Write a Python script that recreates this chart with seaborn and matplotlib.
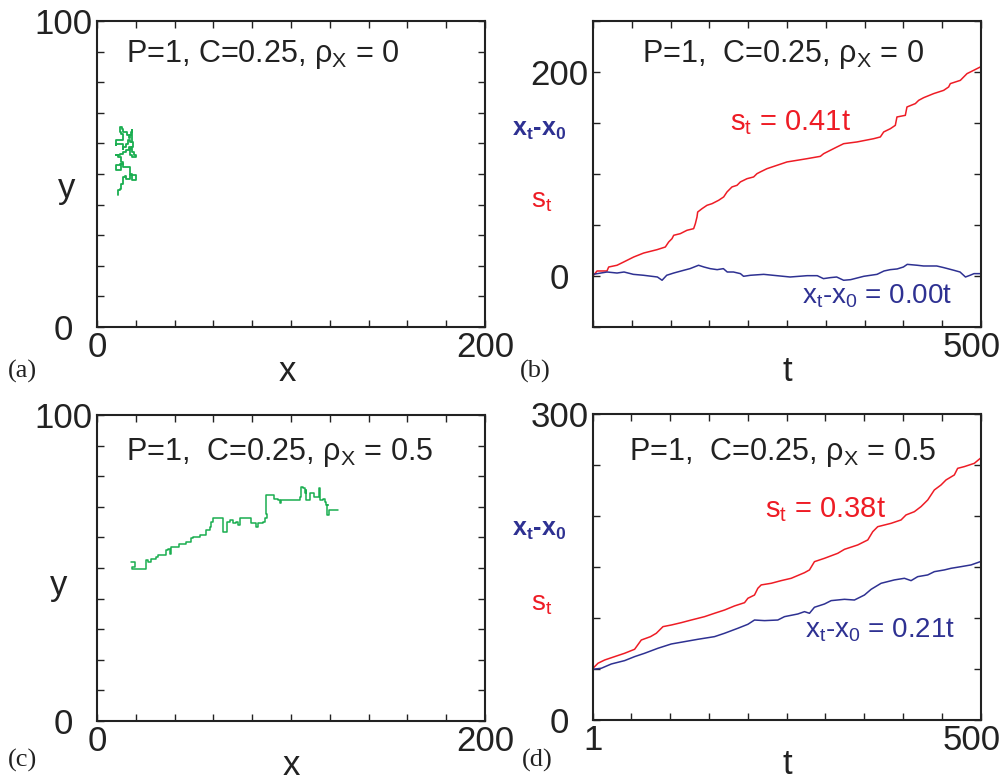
import matplotlib
matplotlib.use("Agg")
import matplotlib.pyplot as plt
import matplotlib.transforms as mtrans
import seaborn as sns
from matplotlib import font_manager

sns.set_theme(style="ticks")
names = {f.name for f in font_manager.fontManager.ttflist}
narrow = "Liberation Sans Narrow" if "Liberation Sans Narrow" in names else "Liberation Sans"
plt.rcParams["font.family"] = [narrow, "DejaVu Sans"]
plt.rcParams["mathtext.fontset"] = "custom"
plt.rcParams["mathtext.rm"] = "Liberation Sans"
plt.rcParams["mathtext.bf"] = "Liberation Sans:bold"
plt.rcParams["mathtext.default"] = "regular"

GREEN = "#1aae50"
RED = "#ee1c25"
BLUE = "#2e3192"

# (a) walk, rho_x = 0
walk_a_x = [10.8, 10.8, 12.0, 12.6, 13.4, 13.4, 14.3, 15.1, 17.2, 17.2, 19.9, 19.9, 18.6, 18.2,
            16.9, 16.9, 14.3, 13.4, 12.6, 12.6, 10.8, 10.0, 11.7, 13.4, 12.6, 10.8, 10.0, 11.7,
            13.4, 15.1, 16.5, 17.7, 16.9, 18.2, 19.9, 18.9, 18.2, 18.6, 17.2, 16.0, 14.8, 13.4,
            13.4, 11.7, 10.0, 10.0, 12.0, 13.4, 13.4, 12.6, 11.7, 11.7, 13.1, 13.4, 15.1, 15.5,
            16.5, 17.2, 17.7, 18.2, 18.2]
walk_a_y = [43.0, 44.7, 45.2, 46.8, 47.1, 49.0, 49.2, 48.5, 48.5, 49.6, 49.6, 47.9, 47.9, 50.1,
            50.7, 52.3, 52.3, 53.4, 52.8, 51.2, 51.2, 52.8, 53.4, 53.9, 55.6, 56.1, 56.1, 56.6,
            57.2, 57.7, 58.8, 58.3, 56.1, 55.6, 56.1, 57.2, 58.8, 60.5, 61.0, 59.7, 58.8, 58.3,
            59.9, 59.9, 59.4, 61.0, 61.0, 61.5, 63.2, 63.7, 64.3, 65.4, 64.8, 63.7, 63.7, 62.6,
            61.9, 62.6, 63.7, 64.3, 60.5]

# (c) walk, rho_x = 0.5
walk_c_x = [17.7, 19.4, 19.4, 18.2, 25.5, 25.1, 26.3, 28.0, 28.0, 30.6, 31.5, 34.9, 35.4, 36.6,
            37.5, 38.3, 41.8, 42.3, 45.2, 46.1, 47.8, 48.7, 49.5, 52.1, 53.0, 56.1, 56.4, 58.1,
            59.0, 59.8, 64.1, 65.0, 65.0, 67.1, 67.1, 68.4, 70.2, 71.9, 72.7, 73.9, 78.8, 79.6,
            81.3, 82.2, 83.1, 85.6, 86.5, 87.4, 87.0, 90.5, 91.1, 93.4, 94.2, 95.1, 103.7, 104.6,
            105.4, 106.3, 107.1, 108.0, 108.0, 109.7, 109.7, 111.4, 111.8, 114.0, 114.5, 115.2,
            116.6, 117.5, 118.3, 119.2, 118.7, 119.7, 120.0, 124.3]
walk_c_y = [52.0, 52.0, 50.4, 49.8, 49.8, 52.6, 52.0, 52.6, 53.1, 53.7, 54.2, 54.2, 55.8, 56.1,
            54.7, 56.9, 56.9, 58.0, 58.0, 58.6, 58.6, 59.7, 60.2, 60.2, 60.7, 60.7, 62.4, 63.5,
            65.1, 66.2, 66.2, 65.4, 61.8, 61.8, 65.1, 65.6, 64.6, 65.1, 64.0, 66.2, 66.2, 64.6,
            64.6, 63.3, 64.6, 65.1, 66.2, 67.8, 73.8, 73.8, 72.7, 72.2, 71.1, 72.2, 72.2, 73.3,
            76.6, 76.0, 74.4, 75.5, 72.2, 72.2, 74.4, 74.4, 73.3, 73.3, 76.0, 72.2, 72.7, 71.6,
            70.6, 70.6, 67.3, 68.9, 69.1, 69.1]

# (b) s_t and x_t - x_0, rho_x = 0
t_b_s = [0, 5.2, 18.0, 20.2, 30.9, 39.5, 52.4, 65.3, 82.5, 93.2, 97.5, 101.8, 104.0, 112.5, 121.1,
         129.7, 131.9, 134.0, 134.9, 140.5, 146.9, 153.4, 161.9, 168.4, 172.7, 179.1, 185.6, 189.9,
         198.5, 207.0, 211.3, 215.6, 224.2, 237.1, 250.0, 262.9, 275.8, 293.0, 297.2, 305.8, 314.4,
         323.0, 340.2, 361.7, 370.3, 374.6, 383.2, 389.6, 391.7, 402.5, 404.6, 415.4, 419.7, 426.1,
         439.0, 451.9, 458.3, 460.5, 473.4, 477.7, 482.0, 486.3, 499.1]
s_b = [0, 4.9, 4.9, 8.8, 10.5, 13.7, 18.6, 22.5, 25.8, 28.4, 33.3, 36.6, 39.9, 41.5, 44.8, 46.4,
       51.3, 57.8, 62.7, 66.0, 69.3, 70.9, 74.2, 77.5, 82.4, 87.3, 88.9, 92.2, 95.4, 97.1, 100.3,
       102.0, 105.2, 108.5, 111.8, 113.4, 115.0, 117.3, 119.9, 123.2, 126.5, 129.7, 131.4, 134.6,
       136.3, 141.2, 144.4, 147.7, 155.9, 157.5, 165.7, 169.0, 172.2, 174.8, 178.8, 182.0, 185.3,
       188.6, 191.8, 195.1, 198.4, 200.0, 204.9]
t_b_x = [0, 18, 31, 40, 52, 65, 83, 89, 95, 104, 117, 125, 136, 143, 151, 160, 168, 173, 181, 190,
         194, 203, 220, 237, 254, 276, 289, 297, 306, 314, 323, 332, 349, 366, 375, 383, 392, 400,
         405, 418, 426, 443, 452, 465, 473, 480, 486, 491, 500]
dx_b = [1.6, 3.9, 2.9, 3.9, 1.6, 0.7, -1.0, -4.2, 0.7, 2.9, 5.6, 7.2, 10.5, 8.8, 7.2, 6.2, 7.2,
        3.9, 3.9, 2.3, -0.3, 0.7, 1.6, 0.3, -1.0, 0.3, 0.3, -2.6, -1.6, -1.0, -4.2, -3.6, -0.3,
        1.6, 4.9, 6.2, 6.9, 8.8, 11.4, 10.5, 9.8, 9.8, 8.2, 5.6, 3.9, -1.0, 0.7, 2.3, 2.3]

# (d) s_t and x_t - x_0, rho_x = 0.5
t_d_s = [1, 7.4, 16, 28.8, 41.7, 54.5, 63.1, 75, 82.4, 91, 101.7, 114.5, 127.4, 144.5, 157.3, 170.2,
         183, 195.9, 200.2, 208.7, 213, 217.3, 230.2, 243, 255.9, 273, 279.4, 285.8, 298.7, 315.8,
         324.4, 341.5, 354.4, 360.8, 367.2, 384.4, 397.2, 403.6, 414.3, 422.9, 431.5, 440, 448.6,
         455, 465.7, 470, 478.6, 491.4, 499.1]
s_d = [50.7, 55.6, 58.8, 62.1, 65.4, 69.3, 78.4, 81.7, 85.0, 91.5, 93.1, 95.4, 98.0, 101.3, 104.6,
       107.8, 111.8, 115.0, 119.3, 122.5, 129.1, 132.4, 134.0, 136.6, 138.9, 144.4, 147.1, 155.2,
       158.5, 163.4, 167.3, 171.6, 176.5, 184.6, 189.5, 192.8, 196.1, 201.0, 204.2, 209.2, 215.7,
       225.5, 230.4, 235.3, 240.2, 246.7, 248.4, 251.6, 256.5]
t_d_x = [1, 11.7, 24.6, 41.7, 54.5, 67.4, 84.5, 101.7, 118.8, 135.9, 157.3, 170.2, 187.3, 200.2,
         208.7, 221.6, 238.7, 247.3, 264.4, 273.0, 279.4, 285.8, 298.7, 307.3, 324.4, 337.2, 350.1,
         358.7, 371.5, 388.6, 401.5, 410.1, 418.6, 431.5, 440.0, 452.9, 461.5, 474.3, 487.2, 499.1]
dx_d = [49.7, 50.7, 54.9, 58.2, 62.1, 65.4, 70.3, 74.5, 76.8, 79.1, 81.7, 85.0, 89.9, 93.8, 98.0,
        97.4, 98.0, 101.3, 103.9, 106.2, 104.6, 110.5, 113.7, 117.0, 118.3, 117.6, 122.5, 128.1,
        134.0, 137.3, 138.9, 136.6, 140.5, 142.2, 145.4, 147.1, 148.7, 150.3, 152.0, 155.2]

walk_xticks = list(range(0, 201, 20))
walk_xlabels = ["0"] + [""] * 9 + ["200"]
walk_yticks = list(range(0, 101, 10))
walk_ylabels = ["0"] + [""] * 9 + ["100"]
b_xticks = list(range(0, 501, 50))
b_xlabels = [""] * 10 + ["500"]
b_yticks = list(range(-50, 251, 50))
b_ylabels = ["", "0", "", "", "", "200", ""]
d_xticks = [1] + list(range(50, 501, 50))
d_xlabels = ["1"] + [""] * 9 + ["500"]
d_yticks = list(range(0, 301, 50))
d_ylabels = ["0", "", "", "", "", "", "300"]

titles = ["P=1, C=0.25, ρ$_X$ = 0", "P=1,  C=0.25, ρ$_X$ = 0",
          "P=1,  C=0.25, ρ$_X$ = 0.5", "P=1,  C=0.25, ρ$_X$ = 0.5"]

fig = plt.figure(figsize=(10.08, 7.83), dpi=100)


def style(ax, xlim, ylim, xt, xl, yt, yl):
    ax.set_xlim(*xlim)
    ax.set_ylim(*ylim)
    ax.set_xticks(xt, xl)
    ax.set_yticks(yt, yl)
    ax.tick_params(direction="in", length=5, width=1, top=True, right=True,
                   labelsize=25, colors="#222222")
    ax.tick_params(axis="x", pad=3)
    ax.tick_params(axis="y", pad=24)
    for lbl in ax.get_yticklabels():
        lbl.set_horizontalalignment("center")
    for s in ax.spines.values():
        s.set_linewidth(1.5)
        s.set_color("#222222")
    ax.set_xlabel("")
    ax.set_ylabel("")


def nudge_last_xlabel(ax, dx_px):
    lbl = ax.get_xticklabels()[-1]
    off = mtrans.ScaledTranslation(dx_px / 100, 0, fig.dpi_scale_trans)
    lbl.set_transform(lbl.get_transform() + off)


ax_a = fig.add_axes([0.0962, 0.5824, 0.3849, 0.3908])
ax_b = fig.add_axes([0.5883, 0.5824, 0.3849, 0.3908])
ax_c = fig.add_axes([0.0962, 0.0792, 0.3849, 0.3908])
ax_d = fig.add_axes([0.5883, 0.0805, 0.3849, 0.3908])

sns.lineplot(x=walk_a_x, y=walk_a_y, sort=False, estimator=None, color=GREEN, lw=1.3,
             drawstyle="steps-post", ax=ax_a)
sns.lineplot(x=walk_c_x, y=walk_c_y, sort=False, estimator=None, color=GREEN, lw=1.1,
             drawstyle="steps-post", ax=ax_c)
sns.lineplot(x=t_b_s, y=s_b, sort=False, estimator=None, color=RED, lw=1.1, ax=ax_b)
sns.lineplot(x=t_b_x, y=dx_b, sort=False, estimator=None, color=BLUE, lw=1.1, ax=ax_b)
sns.lineplot(x=t_d_s, y=s_d, sort=False, estimator=None, color=RED, lw=1.1, ax=ax_d)
sns.lineplot(x=t_d_x, y=dx_d, sort=False, estimator=None, color=BLUE, lw=1.1, ax=ax_d)

style(ax_a, (0, 200), (0, 100), walk_xticks, walk_xlabels, walk_yticks, walk_ylabels)
style(ax_c, (0, 200), (0, 100), walk_xticks, walk_xlabels, walk_yticks, walk_ylabels)
style(ax_b, (0, 500), (-50, 250), b_xticks, b_xlabels, b_yticks, b_ylabels)
style(ax_d, (1, 500), (0, 300), d_xticks, d_xlabels, d_yticks, d_ylabels)
nudge_last_xlabel(ax_b, -9)
nudge_last_xlabel(ax_d, -9)

title_pos = [(0.075, 0.866), (0.126, 0.866), (0.075, 0.853), (0.093, 0.850)]
for ax, ttl, (tx, ty) in zip([ax_a, ax_b, ax_c, ax_d], titles, title_pos):
    ax.text(tx, ty, ttl, transform=ax.transAxes, fontsize=22, family="Liberation Sans",
            color="#222222", va="baseline", ha="left")

# axis labels
for ax, lab, lx, ly in [(ax_a, "x", 0.49, -0.147), (ax_c, "x", 0.50, -0.146),
                        (ax_b, "t", 0.50, -0.147), (ax_d, "t", 0.50, -0.146)]:
    ax.text(lx, ly, lab, transform=ax.transAxes, fontsize=25,
            ha="center", va="center", color="#222222")
ax_a.text(-0.077, 0.454, "y", transform=ax_a.transAxes, fontsize=25, ha="center", va="center",
          color="#222222")
ax_c.text(-0.100, 0.444, "y", transform=ax_c.transAxes, fontsize=25, ha="center", va="center",
          color="#222222")

# side labels on (b) and (d)
for ax, yx, ys in [(ax_b, 0.624, 0.389), (ax_d, 0.601, 0.359)]:
    ax.text(-0.209, yx, r"x$_\mathbf{t}$-x$_\mathbf{0}$", transform=ax.transAxes, fontsize=18,
            fontweight="bold", family="Liberation Sans", color=BLUE, va="baseline")
    ax.text(-0.160, ys, "s$_t$", transform=ax.transAxes, fontsize=20,
            family="Liberation Sans", color=RED, va="baseline")

# slope annotations
ax_b.text(0.353, 0.644, "s$_t$ = 0.41t", transform=ax_b.transAxes, fontsize=21,
          family="Liberation Sans", color=RED, va="baseline")
ax_b.text(0.539, 0.078, "x$_t$-x$_0$ = 0.00t", transform=ax_b.transAxes, fontsize=20,
          family="Liberation Sans", color=BLUE, va="baseline")
ax_d.text(0.443, 0.663, "s$_t$ = 0.38t", transform=ax_d.transAxes, fontsize=21,
          family="Liberation Sans", color=RED, va="baseline")
ax_d.text(0.546, 0.271, "x$_t$-x$_0$ = 0.21t", transform=ax_d.transAxes, fontsize=20,
          family="Liberation Sans", color=BLUE, va="baseline")

# panel tags
for lab, px, py in [("(a)", 0.022, 0.525), ("(b)", 0.531, 0.525), ("(c)", 0.022, 0.029), ("(d)", 0.533, 0.029)]:
    fig.text(px, py, lab, fontsize=19, family="Liberation Serif", ha="center", va="center",
             color="#222222")

fig.savefig("out.png", dpi=100)
